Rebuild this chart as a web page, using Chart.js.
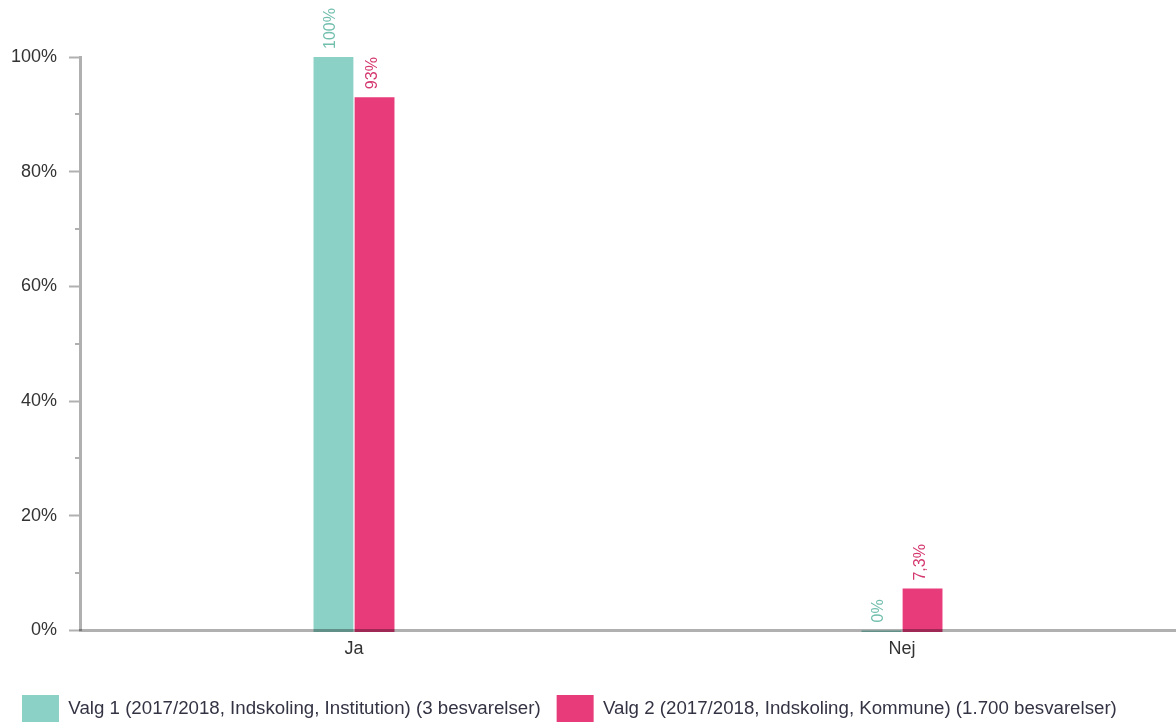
<!DOCTYPE html>
<html>
<head>
<meta charset="utf-8">
<script src="https://cdn.jsdelivr.net/npm/chart.js@4/dist/chart.umd.min.js"></script>
<style>
html,body{margin:0;padding:0;background:#fff;}
#wrap{width:1176px;height:722px;position:relative;}
</style>
</head>
<body>
<div id="wrap"><canvas id="c" width="1176" height="722"></canvas></div>
<script>
const categories = ['Ja', 'Nej'];
const seriesNames = [
  'Valg 1 (2017/2018, Indskoling, Institution) (3 besvarelser)',
  'Valg 2 (2017/2018, Indskoling, Kommune) (1.700 besvarelser)'
];
const valg1 = [100, 0];
const valg2 = [93, 7.3];
const valg1Labels = ['100%', '0%'];
const valg2Labels = ['93%', '7,3%'];
const yTicks = [0, 20, 40, 60, 80, 100];

const FONT = '"Liberation Sans", Arial, sans-serif';
const teal = '#8BD1C5', pink = '#E83B7A';
const tealText = '#72BFAE', pinkText = '#D4386F';

const barLabels = {
  id: 'barLabels',
  afterDatasetsDraw(chart) {
    const ctx = chart.ctx;
    const sets = [[valg1Labels, tealText], [valg2Labels, pinkText]];
    chart.data.datasets.forEach((ds, i) => {
      const meta = chart.getDatasetMeta(i);
      const ys = chart.scales.y;
      meta.data.forEach((bar, j) => {
        const top = ys.getPixelForValue(ds.data[j]);
        ctx.save();
        ctx.translate(bar.x + 2, top - 8);
        ctx.rotate(-Math.PI / 2);
        ctx.font = '16px ' + FONT;
        ctx.fillStyle = sets[i][1];
        ctx.textAlign = 'left';
        ctx.textBaseline = 'alphabetic';
        ctx.fillText(sets[i][0][j], 0, 0);
        ctx.restore();
      });
    });
  }
};

const minorTicks = {
  id: 'minorTicks',
  afterDraw(chart) {
    const y = chart.scales.y, ctx = chart.ctx;
    ctx.save();
    ctx.strokeStyle = '#b0b0b0';
    ctx.lineWidth = 2;
    for (let v = 10; v < 100; v += 20) {
      const py = Math.round(y.getPixelForValue(v));
      ctx.beginPath();
      ctx.moveTo(y.right - 5, py);
      ctx.lineTo(y.right, py);
      ctx.stroke();
    }
    ctx.restore();
  }
};

new Chart(document.getElementById('c'), {
  type: 'bar',
  data: {
    labels: categories,
    datasets: [
      { label: seriesNames[0], data: valg1, backgroundColor: teal, borderWidth: 0, base: -0.3, clip: false },
      { label: seriesNames[1], data: valg2, backgroundColor: pink, borderWidth: 0, base: -0.3, clip: false }
    ]
  },
  options: {
    responsive: false,
    animation: false,
    devicePixelRatio: 1,
    layout: { padding: { top: 57, right: 0, left: 6, bottom: -10 } },
    datasets: { bar: { categoryPercentage: 0.15, barPercentage: 0.97 } },
    plugins: {
      legend: {
        position: 'bottom',
        align: 'start',
        labels: {
          boxWidth: 37, boxHeight: 27, padding: 16,
          color: '#333344',
          font: { size: 18.7, family: FONT }
        }
      },
      tooltip: { enabled: false }
    },
    scales: {
      x: {
        grid: { display: false, drawOnChartArea: false, tickLength: 0 },
        border: { display: true, color: 'rgba(0,0,0,0.31)', width: 3, z: 1 },
        ticks: { color: '#333', font: { size: 18, family: FONT }, padding: 8 },
        afterFit(scale) { scale.height += 11; }
      },
      y: {
        min: 0, max: 100,
        afterBuildTicks(scale) { scale.ticks = yTicks.map(v => ({ value: v })); },
        afterFit(scale) { scale.width = 74; },
        grid: { drawOnChartArea: false, tickLength: 11, tickWidth: 2, tickColor: '#b0b0b0' },
        border: { display: true, color: '#b0b0b0', width: 3 },
        ticks: { color: '#333', font: { size: 18, family: FONT }, padding: 12, callback: v => v + '%' }
      }
    }
  },
  plugins: [barLabels, minorTicks]
});
</script>
</body>
</html>
